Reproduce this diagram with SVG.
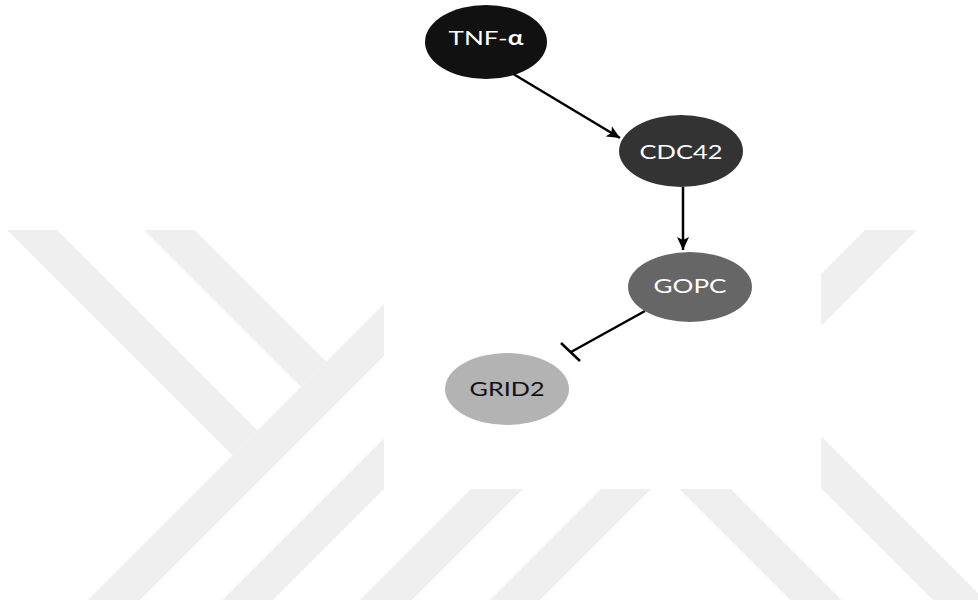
<svg xmlns="http://www.w3.org/2000/svg" width="978" height="607" viewBox="0 0 978 607">
  <defs>
    <style>
      .band { fill: #efefef; }
      .node-label { font-family: Lato, "Open Sans", "DejaVu Sans", sans-serif; font-size: 20px; text-anchor: middle; }
      .edge { stroke: #000; stroke-width: 2.5; fill: none; }
    </style>
    <clipPath id="bandClip">
      <rect x="0" y="230" width="978" height="370"/>
    </clipPath>
    <marker id="arrow" markerUnits="userSpaceOnUse" markerWidth="14" markerHeight="12" refX="13" refY="6" orient="auto">
      <path d="M0,0 L13,6 L0,12 L3,6 z" fill="#000"/>
    </marker>
  </defs>

  <!-- page background -->
  <rect width="978" height="607" fill="#ffffff"/>

  <!-- watermark bands -->
  <g id="watermark" clip-path="url(#bandClip)">
    <polygon class="band" points="7,230 57,230 257.5,430.5 232.5,455.5"/>
    <polygon class="band" points="144,230 195,230 326.5,361.5 301,387"/>
    <polygon class="band" points="88,600 140,600 470,270 418,270"/>
    <polygon class="band" points="222,600 273,600 500,373 449,373"/>
    <polygon class="band" points="360,600 412,600 600,412 548,412"/>
    <polygon class="band" points="490,600 540,600 700,440 650,440"/>
    <polygon class="band" points="790,600 842,600 700,458 648,458"/>
    <polygon class="band" points="933,600 985,600 780,395 728,395"/>
    <polygon class="band" points="865,230 917,230 780,367 728,367"/>
  </g>

  <!-- diagram panel -->
  <rect x="384" y="0" width="437" height="489" fill="#ffffff"/>

  <!-- connectors -->
  <g id="edges">
    <line class="edge" x1="510" y1="72" x2="620" y2="138" marker-end="url(#arrow)"/>
    <line class="edge" x1="683" y1="187" x2="683" y2="250" marker-end="url(#arrow)"/>
    <line class="edge" x1="645" y1="311" x2="571" y2="352"/>
    <line class="edge" x1="561" y1="343" x2="580" y2="361"/>
  </g>

  <!-- nodes -->
  <g id="node-tnf">
    <ellipse cx="486" cy="42" rx="61" ry="37" fill="#111111"/>
    <text class="node-label" x="486" y="45" fill="#ffffff" textLength="75" lengthAdjust="spacingAndGlyphs">TNF-<tspan font-weight="bold">α</tspan></text>
  </g>
  <g id="node-cdc42">
    <ellipse cx="681" cy="151" rx="62" ry="36" fill="#333333"/>
    <text class="node-label" x="681" y="159" fill="#ffffff" textLength="83" lengthAdjust="spacingAndGlyphs">CDC42</text>
  </g>
  <g id="node-gopc">
    <ellipse cx="690" cy="287" rx="62" ry="35" fill="#666666"/>
    <text class="node-label" x="690" y="293" fill="#ffffff" textLength="73" lengthAdjust="spacingAndGlyphs">GOPC</text>
  </g>
  <g id="node-grid2">
    <ellipse cx="507" cy="389" rx="62" ry="36" fill="#b3b3b3"/>
    <text class="node-label" x="507" y="396" fill="#111111" textLength="75" lengthAdjust="spacingAndGlyphs">GRID2</text>
  </g>
</svg>
